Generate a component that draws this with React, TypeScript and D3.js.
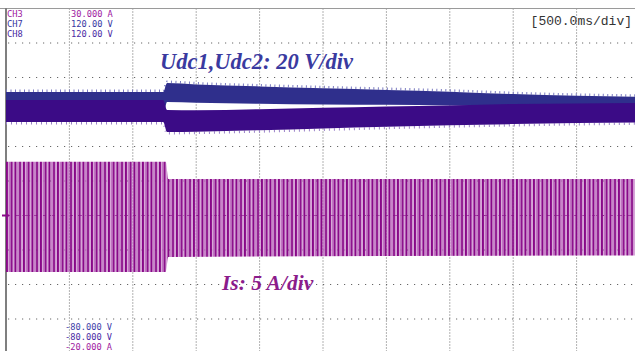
import React from 'react';
import * as d3 from 'd3';

// time in seconds (500 ms/div, 10 div)
const udcTime = [0, 1.24, 1.27, 1.5, 2, 2.5, 3, 3.5, 4, 4.5, 5];
// Udc1 (CH7) envelope, volts
const udc1Upper = [71.6, 71.6, 76.8, 76.0, 74.8, 73.8, 72.8, 71.8, 70.4, 69.4, 68.8];
const udc1Lower = [58.3, 58.3, 65.8, 65.4, 64.8, 64.4, 64.2, 63.8, 63.2, 62.0, 61.2];
// Udc2 (CH8) envelope, volts
const udc2Upper = [67.0, 67.0, 61.2, 61.0, 61.6, 62.4, 63.2, 63.8, 64.6, 65.0, 65.2];
const udc2Lower = [54.2, 54.2, 48.4, 48.6, 49.4, 50.4, 51.4, 52.3, 53.0, 53.6, 54.0];

// Is (CH3) envelope, amps
const isTime = [0, 1.26, 1.28, 5];
const isUpper = [7.8, 7.8, 5.3, 5.3];
const isLower = [-8.2, -8.2, -6.0, -5.8];

const channelNames = ['CH3', 'CH7', 'CH8'];
const topScale = ['30.000 A', '120.00 V', '120.00 V'];
const bottomScale = ['-80.000 V', '-80.000 V', '-20.000 A'];
const timeDivLabel = '[500.0ms/div]';
const udcLabel = 'Udc1,Udc2: 20 V/div';
const isLabel = 'Is: 5 A/div';

const CH_COLORS = ['#a0209f', '#3636a2', '#4a2aa4'];
const BOTTOM_COLORS = ['#3d3da8', '#4a2aa4', '#a0209f'];
const UDC1 = '#2f2f8c';
const UDC2 = '#3b0b86';

const W = 635;
const H = 351;

export default function App() {
  const x = d3.scaleLinear().domain([0, 5]).range([6, 640]);
  const yV = d3.scaleLinear().domain([-80, 120]).range([353.5, 8.5]);
  const yA = d3.scaleLinear().domain([-20, 30]).range([353.5, 8.5]);

  const band = (t: number[], lo: number[], y: d3.ScaleLinear<number, number>) =>
    d3
      .area<number>()
      .x((_, i) => x(t[i]))
      .y0((_, i) => y(lo[i]))
      .y1((d) => y(d))
      .curve(d3.curveMonotoneX);

  const edge = (t: number[], y: d3.ScaleLinear<number, number>, off: number) =>
    d3
      .line<number>()
      .x((_, i) => x(t[i]))
      .y((d) => y(d) + off)
      .curve(d3.curveMonotoneX);

  const vGrid = d3.range(1, 10).map((k) => k * 0.5);
  const hGrid = d3.range(-60, 120, 20);

  return (
    <svg
      width={W}
      height={H}
      style={{ position: 'absolute', left: 0, top: 0, background: '#fff' }}
    >
      <defs>
        <pattern id="isPat" patternUnits="userSpaceOnUse" x={6} y={0} width={8.5} height={20}>
          <rect x={0} y={0} width={2.1} height={20} fill="#880888" />
          <rect x={2.6} y={0} width={1.5} height={20} fill="#bf6fc2" />
          <rect x={4.4} y={0} width={2.1} height={20} fill="#880888" />
          <rect x={6.9} y={0} width={1.3} height={20} fill="#c47cc6" />
        </pattern>
      </defs>

      {/* grid */}
      {vGrid.map((t) => (
        <line
          key={'v' + t}
          x1={x(t)}
          x2={x(t)}
          y1={8.5}
          y2={H}
          stroke="#666"
          strokeWidth={1}
          strokeDasharray="1 2"
        />
      ))}
      {hGrid.map((v) => (
        <line
          key={'h' + v}
          x1={8}
          x2={W}
          y1={yV(v)}
          y2={yV(v)}
          stroke="#666"
          strokeWidth={1}
          strokeDasharray="1.2 5.8"
        />
      ))}

      {/* frame */}
      <line x1={0} x2={W} y1={8.5} y2={8.5} stroke="#9a9a9a" strokeWidth={1} />
      <line x1={6} x2={6} y1={8.5} y2={H} stroke="#555" strokeWidth={1.5} />

      {/* Is trace */}
      <path d={band(isTime, isLower, yA)(isUpper) || ''} fill="url(#isPat)" />
      <line
        x1={7}
        x2={W}
        y1={yA(0)}
        y2={yA(0)}
        stroke="#8a0c8a"
        strokeWidth={1.2}
        strokeDasharray="3 6"
        opacity={0.6}
      />
      <line x1={2} x2={9} y1={yA(0)} y2={yA(0)} stroke="#8a0c8a" strokeWidth={2} />

      {/* Udc traces */}
      <path d={edge(udcTime, yV, -1.2)(udc1Upper) || ''} fill="none" stroke="#7a7ac0" strokeWidth={2.5} strokeDasharray="1 3.5" />
      <path d={band(udcTime, udc1Lower, yV)(udc1Upper) || ''} fill={UDC1} />
      <path d={edge(udcTime, yV, 1.2)(udc2Lower) || ''} fill="none" stroke="#9a80c8" strokeWidth={2.5} strokeDasharray="1 4" />
      <path d={band(udcTime, udc2Lower, yV)(udc2Upper) || ''} fill={UDC2} />

      {/* header text */}
      {channelNames.map((c, i) => (
        <text
          key={c}
          x={7}
          y={16.5 + i * 10}
          fontFamily="DejaVu Sans Mono"
          fontSize={8.7}
          fill={CH_COLORS[i]}
        >
          {c}
        </text>
      ))}
      {topScale.map((s, i) => (
        <text
          key={'t' + i}
          x={71}
          y={16.5 + i * 10}
          fontFamily="DejaVu Sans Mono"
          fontSize={8.7}
          fill={CH_COLORS[i]}
        >
          {s}
        </text>
      ))}
      {bottomScale.map((s, i) => (
        <text
          key={'b' + i}
          x={65}
          y={329.5 + i * 10}
          fontFamily="DejaVu Sans Mono"
          fontSize={8.7}
          fill={BOTTOM_COLORS[i]}
        >
          {s}
        </text>
      ))}
      <text x={632} y={25} textAnchor="end" fontFamily="Liberation Mono" fontSize={13} fill="#333">
        {timeDivLabel}
      </text>

      {/* channel annotations */}
      <text
        x={160}
        y={69}
        fontFamily="Liberation Serif"
        fontStyle="italic"
        fontWeight="bold"
        fontSize={22.5}
        fill="#3a3aa0"
      >
        {udcLabel}
      </text>
      <text
        x={222}
        y={290}
        fontFamily="Liberation Serif"
        fontStyle="italic"
        fontWeight="bold"
        fontSize={21.5}
        fill="#8b1c8b"
      >
        {isLabel}
      </text>
    </svg>
  );
}
